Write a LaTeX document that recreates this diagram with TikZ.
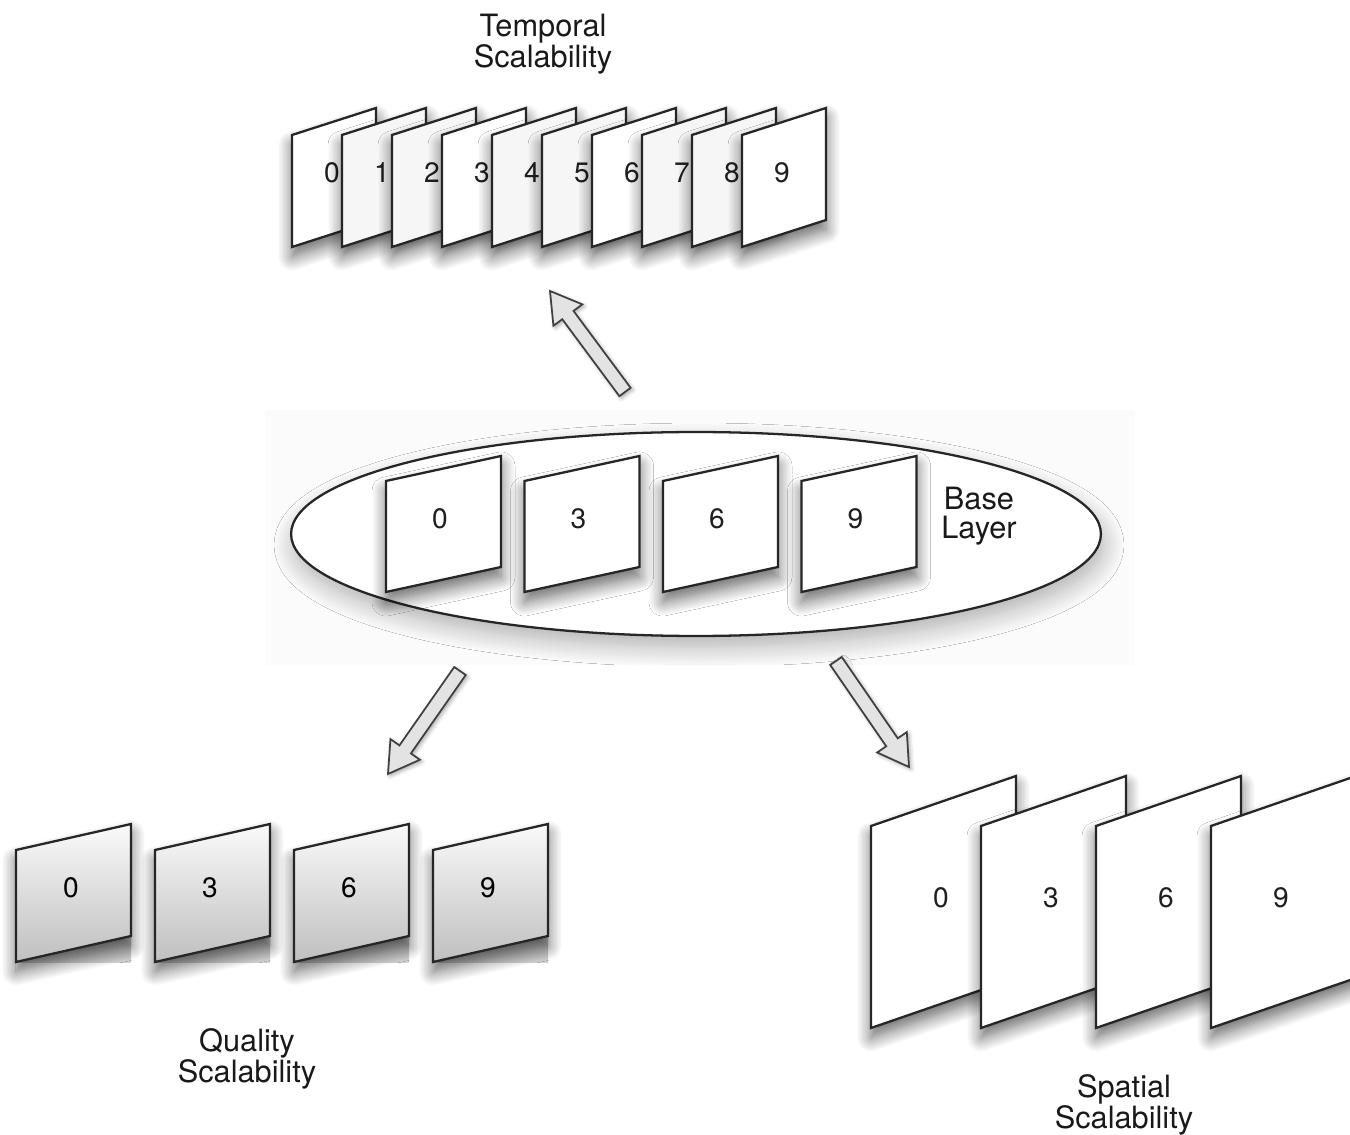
\documentclass[tikz,border=0pt]{standalone}
\usepackage{fontspec}
\setmainfont{TeX Gyre Heros}
\usetikzlibrary{calc,shadows.blur}

\tikzset{
  framebox/.style={draw=black!85, line width=1.3pt, line join=miter, fill=white},
  softshadow/.style={blur shadow={shadow xshift=0pt, shadow yshift=-0.2cm,
      shadow blur radius=0.28cm, shadow opacity=60, shadow blur steps=12}},
  ellshadow/.style={blur shadow={shadow xshift=0.06cm, shadow yshift=-0.22cm,
      shadow blur radius=0.4cm, shadow opacity=30, shadow blur steps=12}},
  arrowshadow/.style={blur shadow={shadow xshift=0.04cm, shadow yshift=-0.04cm,
      shadow blur radius=0.08cm, shadow opacity=35}},
  num/.style={font=\fontsize{16}{16}\selectfont, text=black!88, inner sep=0pt},
  caption/.style={font=\fontsize{17.5}{16.5}\selectfont, align=center,
      text=black!90, inner sep=0pt},
  blockarrow/.style={draw=black!75, line width=1pt, fill=gray!22, line join=miter},
}

% one video frame seen in perspective: top-left corner, width, height, rise
\newcommand\vidframe[6]{%
  \path[#6] (#1,#2) -- ++(#3,-#5) -- ++(0,#4) -- ++(-#3,#5) -- cycle;}

% hollow block arrow from tail coordinate #1 to tip coordinate #2
\newcommand\fatarrow[2]{%
  \coordinate (#1-h) at ($(#2)!0.6cm!(#1)$);
  \draw[blockarrow, arrowshadow]
    ($(#1)!0.14cm!90:(#2)$) -- ($(#1-h)!0.14cm!90:(#2)$) -- ($(#1-h)!0.36cm!90:(#2)$)
    -- (#2) -- ($(#1-h)!0.36cm!-90:(#2)$) -- ($(#1-h)!0.14cm!-90:(#2)$)
    -- ($(#1)!0.14cm!-90:(#2)$) -- cycle;}

\begin{document}
\begin{tikzpicture}[x=0.02cm, y=-0.02cm]
\useasboundingbox (0,0) rectangle (1350,1135);

% ---- temporal scalability: ten overlapping frames
\node[caption] (tlbl) at (543,44) {Temporal\\Scalability};
\foreach \i in {0,...,9} {
  \pgfmathsetmacro\fx{292+50*\i}
  \pgfmathtruncatemacro\m{mod(\i,3)}
  \ifnum\m=0 \def\fc{white}\else\def\fc{gray!7}\fi
  \vidframe{\fx}{135}{84}{112}{27}{framebox, softshadow, fill=\fc}
  \node[num] (t\i) at (\fx+40,173) {\i};
}

% ---- base layer
\fill[black!1.5] (265,410) rectangle (1135,665);
\path[draw=black!85, line width=1.3pt, fill=white, ellshadow]
  (696,534) ellipse [x radius=8.1cm, y radius=2.04cm];
\foreach \i/\n in {0/0,1/3,2/6,3/9} {
  \pgfmathsetmacro\fx{386+138.5*\i}
  \vidframe{\fx}{481}{115}{111}{25}{framebox, softshadow}
  \node[num] (b\n) at (\fx+54,519) {\n};
}
\node[caption] (blbl) at (979,516) {Base\\Layer};

% ---- arrows out of the base layer
\coordinate (upA) at (625,392);  \coordinate (upB) at (550,291);
\coordinate (qlA) at (460,671);  \coordinate (qlB) at (388,774);
\coordinate (spA) at (836,661);  \coordinate (spB) at (909,767);
\fatarrow{upA}{upB}
\fatarrow{qlA}{qlB}
\fatarrow{spA}{spB}

% ---- quality scalability: shaded frames
\foreach \i/\n in {0/0,1/3,2/6,3/9} {
  \pgfmathsetmacro\fx{16+139*\i}
  \fill[top color=gray!65, bottom color=gray!35] (\fx+3,930) rectangle (\fx+115,962);
  \vidframe{\fx}{850}{115}{112}{26}{framebox, softshadow, top color=gray!4, bottom color=gray!50}
  \node[num, text=black] (q\n) at (\fx+55,888) {\n};
}
\node[caption] (qlbl) at (247,1059) {Quality\\Scalability};

% ---- spatial scalability: large frames
\foreach \n/\fx in {0/871,3/981,6/1096,9/1211} {
  \vidframe{\fx}{826}{145}{202}{50}{framebox, softshadow}
  \node[num] (s\n) at (\fx+70,898) {\n};
}
\node[caption] (slbl) at (1124,1105) {Spatial\\Scalability};
\end{tikzpicture}
\end{document}
